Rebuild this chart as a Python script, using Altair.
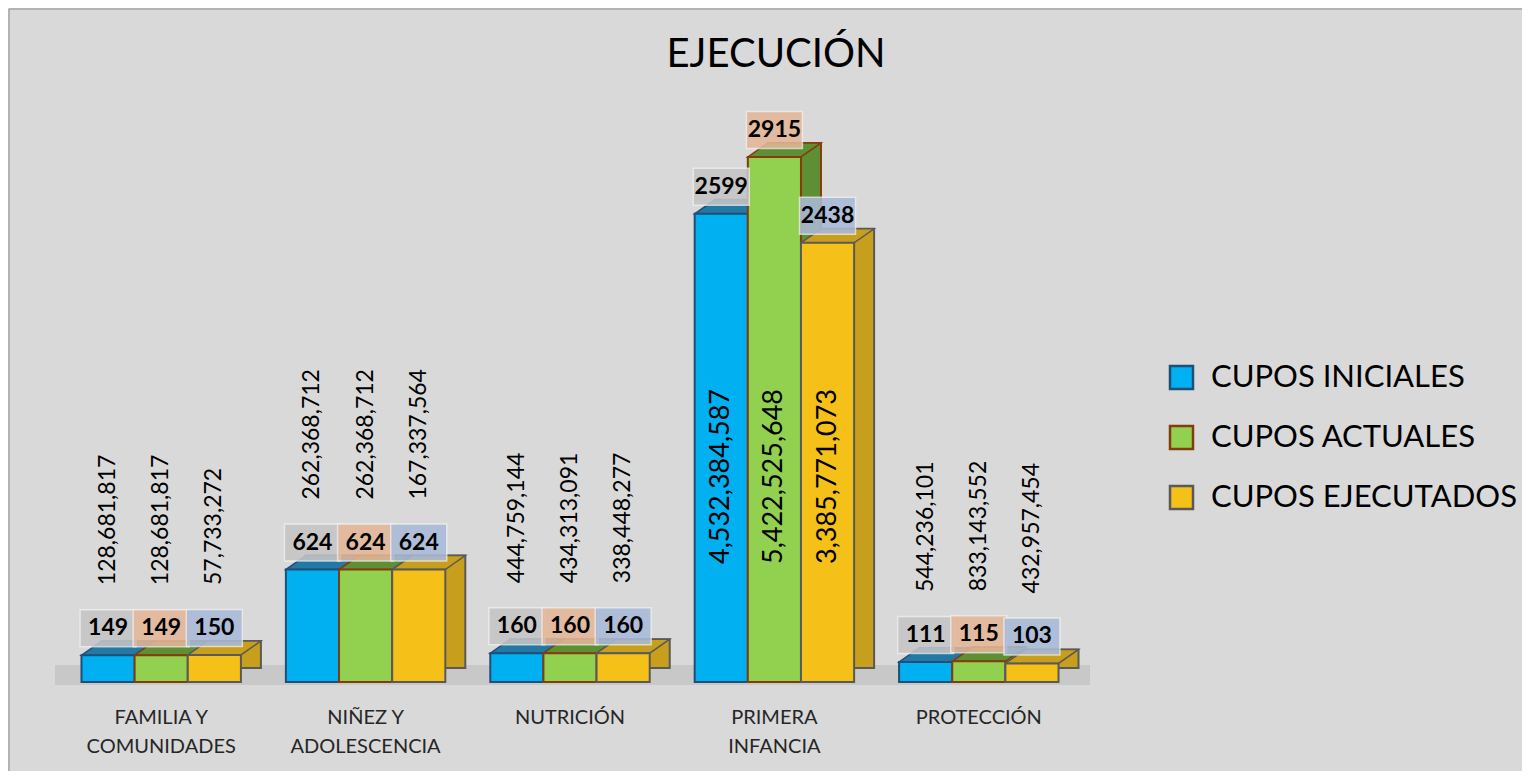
import altair as alt
import pandas as pd

# ---- data ----
categories = ["FAMILIA Y\nCOMUNIDADES", "NIÑEZ Y\nADOLESCENCIA", "NUTRICIÓN",
              "PRIMERA\nINFANCIA", "PROTECCIÓN"]
series = ["CUPOS INICIALES", "CUPOS ACTUALES", "CUPOS EJECUTADOS"]

cupos_iniciales = [149, 624, 160, 2599, 111]
cupos_actuales = [149, 624, 160, 2915, 115]
cupos_ejecutados = [150, 624, 160, 2438, 103]

valor_iniciales = [128681817, 262368712, 444759144, 4532384587, 544236101]
valor_actuales = [128681817, 262368712, 434313091, 5422525648, 833143552]
valor_ejecutados = [57733272, 167337564, 338448277, 3385771073, 432957454]

# ---- styles ----
front_colors = ["#00b0f0", "#92d050", "#f5c018"]
stroke_colors = ["#1f4e79", "#843c0c", "#595959"]
depth_colors = ["#2379a3", "#5f8f35", "#c89f1c"]
box_colors = ["#c5c5c5", "#e3b698", "#a9bad8"]
FONT = "Lato"
PLOT_W = 1022
PLOT_H = 582
BAND = PLOT_W / 5 * 0.78  # bandwidth of one category group
BAR_W = BAND / 3
DEPTH_X = 20
DEPTH_Y = 14

rows = []
for ser, cup, val in [(series[0], cupos_iniciales, valor_iniciales),
                      (series[1], cupos_actuales, valor_actuales),
                      (series[2], cupos_ejecutados, valor_ejecutados)]:
    for cat, c, v in zip(categories, cup, val):
        rows.append({"categoria": cat, "serie": ser, "cupos": c, "valor": v, "base": 0})
df = pd.DataFrame(rows)

x_enc = alt.X("categoria:N", sort=categories,
              scale=alt.Scale(paddingInner=0.22, paddingOuter=0.11),
              axis=alt.Axis(title=None, domain=False, ticks=False, labelAngle=0,
                            labelFontSize=20, labelFont=FONT, labelColor="#262626",
                            labelLineHeight=29, labelPadding=25, labelLimit=400,
                            labelExpr="split(datum.label, '\\n')"))
xoff_enc = alt.XOffset("serie:N", sort=series,
                       scale=alt.Scale(type="band", domain=series, paddingInner=0,
                                       paddingOuter=0, range=[0, BAND]))
xoff_depth = alt.XOffset("serie:N", sort=series,
                         scale=alt.Scale(type="band", domain=series, paddingInner=0,
                                         paddingOuter=0, range=[DEPTH_X, DEPTH_X + BAND]))
y_scale = alt.Scale(domain=[0, 3231], nice=False, zero=True)
y_enc = alt.Y("cupos:Q", scale=y_scale, axis=None)

base = alt.Chart(df)
one = pd.DataFrame({"f": [0]})

# chart frame (left and top edges) and 3D floor
frame_top = alt.Chart(one).mark_rule(color="#a6a6a6", strokeWidth=1.5).encode(
    x=alt.value(-50), x2=alt.value(1470), y=alt.value(-91))
frame_left = alt.Chart(one).mark_rule(color="#a6a6a6", strokeWidth=1.5).encode(
    x=alt.value(-50), y=alt.value(-91), y2=alt.value(700))
floor = alt.Chart(one).mark_rect(color="#c8c8c8").encode(
    x=alt.value(-4), x2=alt.value(1031), y=alt.value(565), y2=alt.value(585))

depth = base.mark_bar(yOffset=-DEPTH_Y, y2Offset=-DEPTH_Y, strokeWidth=2).encode(
    x=x_enc, xOffset=xoff_depth, y=y_enc,
    fill=alt.Fill("serie:N", sort=series,
                  scale=alt.Scale(domain=series, range=depth_colors), legend=None),
    stroke=alt.Stroke("serie:N", sort=series,
                      scale=alt.Scale(domain=series, range=stroke_colors), legend=None),
)

# slanted top face of each bar
r = BAR_W / 2
sx = DEPTH_X / r
sy = DEPTH_Y / r
top_path = f"M-1,0L1,0L{1 + sx:.3f},{-sy:.3f}L{-1 + sx:.3f},{-sy:.3f}Z"
top_face = base.mark_point(shape=top_path, filled=True, size=BAR_W ** 2,
                           strokeWidth=1.5, opacity=1).encode(
    x=x_enc, xOffset=xoff_enc, y=y_enc,
    fill=alt.Fill("serie:N", sort=series,
                  scale=alt.Scale(domain=series, range=depth_colors), legend=None),
    stroke=alt.Stroke("serie:N", sort=series,
                      scale=alt.Scale(domain=series, range=stroke_colors), legend=None),
)

front = base.mark_bar(strokeWidth=2).encode(
    x=x_enc, xOffset=xoff_enc, y=y_enc,
    fill=alt.Fill("serie:N", sort=series,
                  scale=alt.Scale(domain=series, range=front_colors),
                  legend=alt.Legend(title=None)),
    stroke=alt.Stroke("serie:N", sort=series,
                      scale=alt.Scale(domain=series, range=stroke_colors),
                      legend=alt.Legend(title=None)),
)

boxes = base.mark_point(shape="M-1,-0.66H1V0.66H-1Z", filled=True, size=3136,
                        yOffset=-27, opacity=0.88, stroke="#f2f2f2",
                        strokeWidth=1.5, strokeOpacity=0.8).encode(
    x=x_enc, xOffset=xoff_enc, y=y_enc,
    fill=alt.Fill("serie:N", sort=series,
                  scale=alt.Scale(domain=series, range=box_colors), legend=None),
)

count_text = base.mark_text(font=FONT, fontSize=23, fontWeight="bold", color="black",
                            yOffset=-27, baseline="middle").encode(
    x=x_enc, xOffset=xoff_enc, y=y_enc, text=alt.Text("cupos:Q")
)

small_vals = base.transform_filter("datum.cupos < 1000").mark_text(
    font=FONT, fontSize=23, color="black", angle=270, align="left",
    baseline="middle", yOffset=-70).encode(
    x=x_enc, xOffset=xoff_enc, y=y_enc, text=alt.Text("valor:Q", format=",")
)

big_vals = base.transform_filter("datum.cupos >= 1000").mark_text(
    font=FONT, fontSize=27, color="black", angle=270, align="left",
    baseline="middle", yOffset=-118).encode(
    x=x_enc, xOffset=xoff_enc,
    y=alt.Y("base:Q", scale=y_scale, axis=None),
    text=alt.Text("valor:Q", format=",")
)

chart = alt.layer(frame_top, frame_left, floor, depth, top_face, front, boxes,
                  count_text, small_vals, big_vals).resolve_scale(
    fill="independent", stroke="independent", xOffset="independent"
).properties(
    width=PLOT_W, height=PLOT_H,
    autosize=alt.AutoSizeParams(type="none"),
    padding={"left": 51, "top": 92, "right": 441, "bottom": 89},
    background="#d9d9d9",
    title=alt.TitleParams("EJECUCIÓN", font=FONT, fontSize=40, fontWeight="normal",
                          color="black", anchor="middle", offset=-67, frame="group",
                          dx=206),
).configure_view(stroke="transparent").configure_legend(
    orient="none", legendX=1107, legendY=262, symbolType="square", symbolSize=529,
    symbolStrokeWidth=2.5, labelFontSize=31, labelFont=FONT, labelColor="black",
    rowPadding=27, labelOffset=14, padding=0, labelLimit=500
)

chart.save("out.html", embed_options={"renderer": "svg", "actions": False})
